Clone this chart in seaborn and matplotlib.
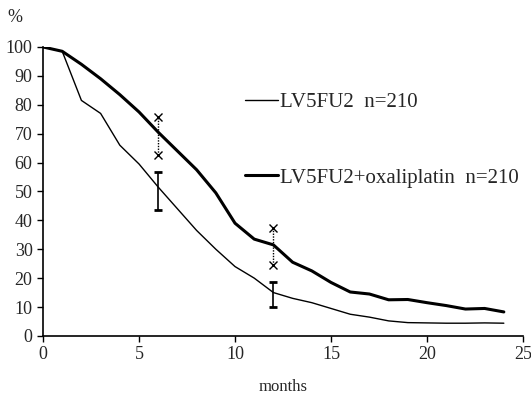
import pandas as pd
import numpy as np
import matplotlib
matplotlib.use('Agg')
import matplotlib.pyplot as plt
import seaborn as sns

# survival curves
months_lv = [0, 1, 2, 3, 4, 5, 6, 7, 8, 9, 10, 11, 12, 13, 14, 15, 16, 17, 18, 19, 20, 21, 22, 23, 24]
pct_lv = [100, 98.5, 81.5, 77, 66, 59.5, 51.5, 44, 36.5, 30, 24, 20, 15, 13, 11.5, 9.5, 7.5, 6.5, 5.2, 4.6, 4.5, 4.4, 4.4, 4.5, 4.4]

months_ox = [0, 1, 2, 3, 4, 5, 6, 7, 8, 9, 10, 11, 12, 13, 14, 15, 16, 17, 18, 19, 20, 21, 22, 23, 24]
pct_ox = [100, 98.5, 94, 89, 83.5, 77.5, 70.5, 64, 57.5, 49.5, 39, 33.5, 31.5, 25.5, 22.5, 18.5, 15.2, 14.5, 12.5, 12.6, 11.5, 10.5, 9.3, 9.5, 8.3]

# confidence intervals at 6 and 12 months
ci_months = [6, 12]
ci_lv_low = [43.6, 10]
ci_lv_high = [56.7, 18.7]
ci_ox_low = [62.6, 24.5]
ci_ox_high = [75.8, 37.3]

label_lv = 'LV5FU2  n=210'
label_ox = 'LV5FU2+oxaliplatin  n=210'

sns.set_style('ticks')
plt.rcParams['font.family'] = ['Liberation Serif', 'DejaVu Serif']

fig = plt.figure(figsize=(5.31, 3.98), dpi=100)
ax = fig.add_axes([0.081, 0.156, 0.904, 0.726])

lv = pd.DataFrame({'month': months_lv, 'pct': pct_lv})
ox = pd.DataFrame({'month': months_ox, 'pct': pct_ox})
sns.lineplot(data=lv, x='month', y='pct', color='black', linewidth=1.0, ax=ax, label=label_lv)
sns.lineplot(data=ox, x='month', y='pct', color='black', linewidth=2.2, ax=ax, label=label_ox)

# CI bars
ax.errorbar(ci_months, [(a + b) / 2 for a, b in zip(ci_lv_low, ci_lv_high)],
            yerr=[[(b - a) / 2 for a, b in zip(ci_lv_low, ci_lv_high)]] * 2,
            fmt='none', ecolor='black', elinewidth=1.2, capsize=3, capthick=2)
ax.vlines(ci_months, ci_ox_low, ci_ox_high, colors='black', linestyles=(0, (1, 1)), linewidth=1)
ax.plot(ci_months * 2, ci_ox_low + ci_ox_high, 'x', color='black', markersize=6, mew=1)

ax.set_xlim(0, 25)
ax.set_ylim(0, 100)
ax.set_xticks(range(0, 26, 5))
ax.set_yticks(range(0, 101, 10))
ax.tick_params(labelsize=13, length=4, width=1, color='black')
for s in ['top', 'right']:
    ax.spines[s].set_visible(False)
for s in ['left', 'bottom']:
    ax.spines[s].set_linewidth(1.2)
    ax.spines[s].set_color('black')
ax.set_xlabel('')
ax.set_ylabel('')

fig.text(15 / 531, 1 - 18 / 398, '%', fontsize=13, ha='center', va='center')
fig.text(283 / 531, 1 - 387 / 398, 'months', fontsize=12, ha='center', va='center')

ax.legend(frameon=False, fontsize=15, loc='upper left', bbox_to_anchor=(0.404, 0.872),
          handlelength=1.55, handletextpad=0.12, labelspacing=2.7, borderaxespad=0)

fig.savefig('out.png', dpi=100)
